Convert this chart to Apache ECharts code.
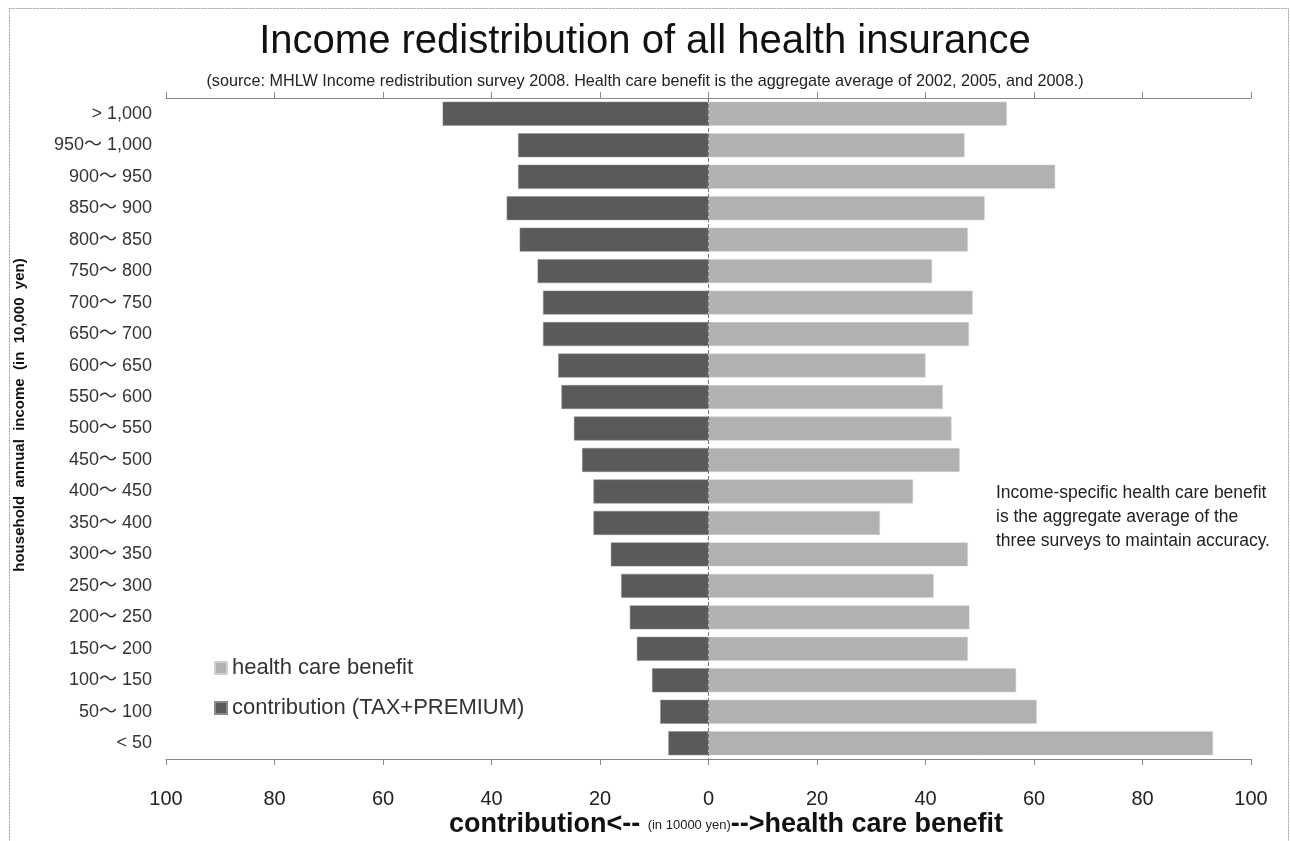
<!DOCTYPE html>
<html>
<head>
<meta charset="utf-8">
<script src="https://cdn.jsdelivr.net/npm/echarts@6/dist/echarts.min.js"></script>
<style>
html,body{margin:0;padding:0;background:#fff;}
#chart{width:1290px;height:841px;}
</style>
</head>
<body>
<div id="chart"></div>
<script>
// Categories top to bottom (household annual income, 10,000 yen)
const categories = ["> 1,000","950〜 1,000","900〜 950","850〜 900","800〜 850","750〜 800","700〜 750","650〜 700","600〜 650","550〜 600","500〜 550","450〜 500","400〜 450","350〜 400","300〜 350","250〜 300","200〜 250","150〜 200","100〜 150","50〜 100","< 50"];
// contribution (TAX+PREMIUM), plotted to the left (negative)
const contribution = [-49.0,-35.1,-35.1,-37.2,-34.8,-31.5,-30.5,-30.5,-27.7,-27.1,-24.8,-23.3,-21.2,-21.2,-18.0,-16.1,-14.5,-13.2,-10.4,-8.9,-7.4];
// health care benefit, plotted to the right
const benefit = [55.0,47.2,63.9,50.9,47.8,41.2,48.7,48.0,40.0,43.2,44.8,46.3,37.7,31.6,47.8,41.5,48.1,47.8,56.7,60.5,93.0];
const xTicks = [-100,-80,-60,-40,-20,0,20,40,60,80,100];

const FONT = "'Liberation Sans','Noto Sans CJK JP',sans-serif";
const chart = echarts.init(document.getElementById('chart'), null, {renderer:'canvas'});
const option = {
  backgroundColor:'#ffffff',
  animation:false,
  textStyle:{fontFamily:FONT},
  title:[
    {text:'Income redistribution of all health insurance',left:'center',top:17,
     textStyle:{fontFamily:FONT,fontSize:40,fontWeight:'normal',color:'#111'}},
    {text:'(source: MHLW Income redistribution survey 2008. Health care benefit is the aggregate average of 2002, 2005, and 2008.)',
     left:'center',top:68,textStyle:{fontFamily:FONT,fontSize:16.2,fontWeight:'normal',color:'#222'}}
  ],
  legend:{
    orient:'vertical',left:209,top:651,itemWidth:12,itemHeight:12,itemGap:16,icon:'rect',
    data:['health care benefit','contribution (TAX+PREMIUM)'],
    textStyle:{fontFamily:FONT,fontSize:22,color:'#333',lineHeight:24}
  },
  grid:{left:166,right:39,top:98,bottom:82,containLabel:false},
  xAxis:[
    {type:'value',position:'bottom',min:xTicks[0],max:xTicks[xTicks.length-1],interval:20,
     axisLine:{show:true,lineStyle:{color:'#888',width:1}},
     axisTick:{show:true,length:6,lineStyle:{color:'#888'}},
     splitLine:{show:false},
     axisLabel:{margin:30,fontSize:20,color:'#222',fontFamily:FONT,
       formatter:v=>String(Math.abs(v))}},
    {type:'value',position:'top',min:xTicks[0],max:xTicks[xTicks.length-1],interval:20,
     axisLine:{show:true,lineStyle:{color:'#888',width:1}},
     axisTick:{show:true,length:6,lineStyle:{color:'#888'}},
     splitLine:{show:false},axisLabel:{show:false}}
  ],
  yAxis:{type:'category',data:categories,inverse:true,
    axisLine:{show:false},axisTick:{show:false},
    axisLabel:{margin:14,fontSize:18,color:'#333',fontFamily:FONT}},
  series:[
    {name:'contribution (TAX+PREMIUM)',type:'bar',data:contribution,barWidth:'76%',barGap:'-100%',
     itemStyle:{color:'#5a5a5a',borderColor:'#8a8a8a',borderWidth:0.5},
     markLine:{silent:true,symbol:'none',label:{show:false},
       lineStyle:{color:'#777',type:'dashed',width:1},data:[{xAxis:0}]}},
    {name:'health care benefit',type:'bar',data:benefit,barWidth:'76%',barGap:'-100%',
     itemStyle:{color:'#b1b1b1',borderColor:'#d0d0d0',borderWidth:0.5}}
  ],
  graphic:[
    {type:'rect',left:7,top:6,shape:{width:1279,height:850},
     style:{fill:'none',stroke:'#a0a0a0',lineWidth:1,lineDash:[2,1]},silent:true},
    {type:'text',left:996,top:481,style:{
      text:'Income-specific health care benefit\nis the aggregate average of the\nthree surveys to maintain accuracy.',
      fontFamily:FONT,fontSize:17.5,lineHeight:24,fill:'#222'}},
    {type:'text',x:20,y:415,rotation:Math.PI/2,style:{
      text:'household  annual  income  (in  10,000  yen)',fontFamily:FONT,fontSize:15,fontWeight:'bold',
      fill:'#111',align:'center',verticalAlign:'middle'}},
    {type:'text',x:726,y:825,style:{
      text:'{b|contribution<-- }{s|(in 10000 yen)}{b|-->health care benefit}',
      align:'center',verticalAlign:'middle',
      rich:{b:{fontFamily:FONT,fontSize:27,fontWeight:'bold',fill:'#111'},
            s:{fontFamily:FONT,fontSize:13,fill:'#222'}}}}
  ]
};
chart.setOption(option);
</script>
</body>
</html>
